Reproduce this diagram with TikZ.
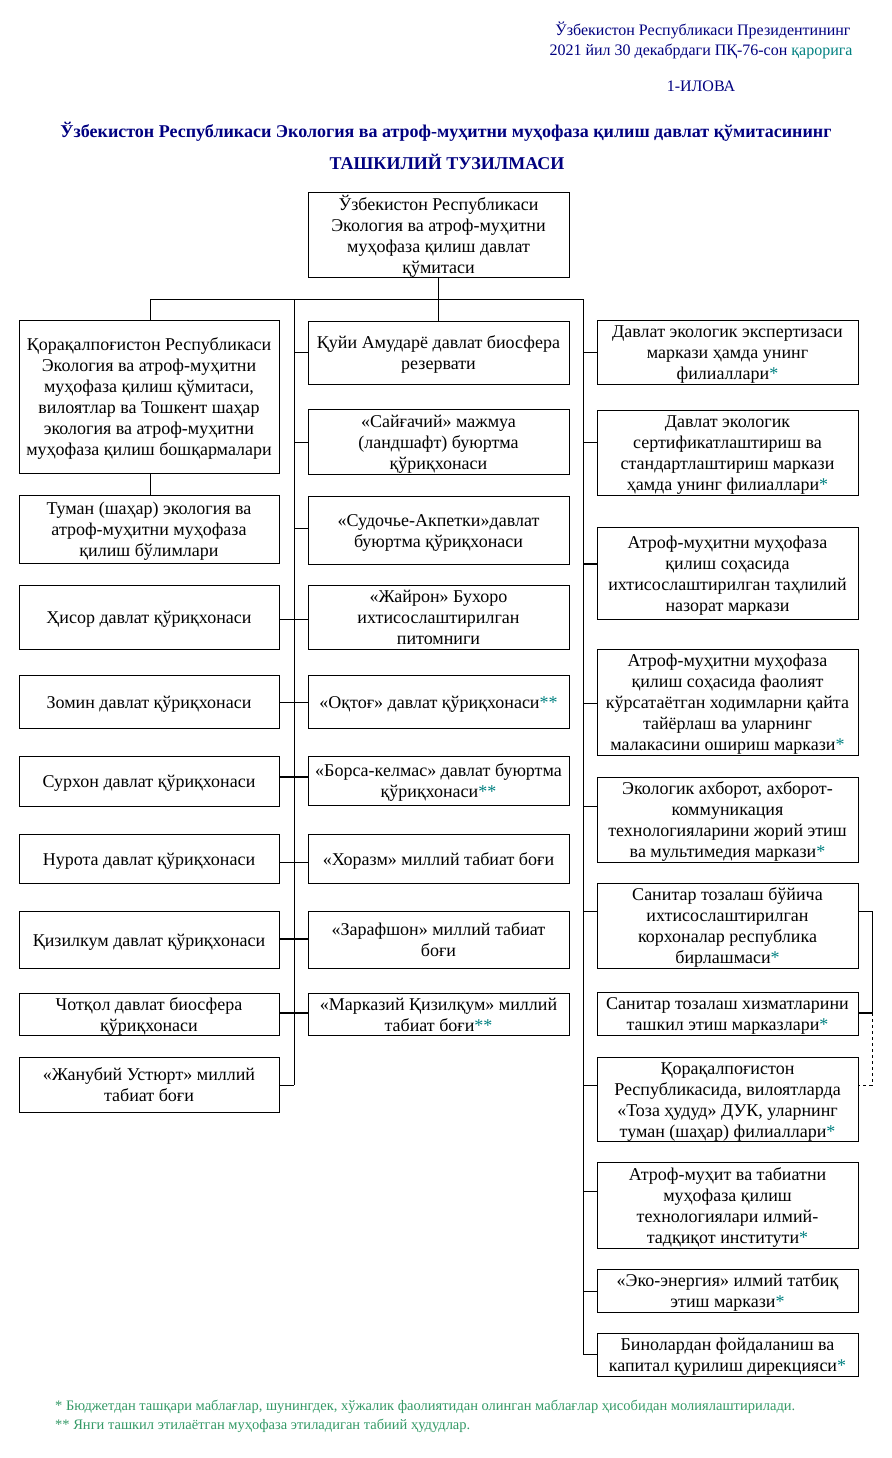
\documentclass[tikz,border=0pt]{standalone}
\usepackage{fontspec}
\setmainfont{Liberation Serif}
\definecolor{navyc}{HTML}{000080}
\definecolor{tealc}{HTML}{008080}
\definecolor{fgreen}{HTML}{339966}
\newcommand{\tst}[1]{\textcolor{tealc}{#1}}
\newcommand{\bt}[1]{\raisebox{-2.5pt}[\height][\depth]{\begin{tabular}{@{}c@{}}#1\end{tabular}}}
\begin{document}
\begin{tikzpicture}[x=1pt,y=-1pt,
  box/.style={draw, line width=1pt, inner sep=0pt, font=\fontsize{18}{21}\selectfont},
  lb/.style={box, minimum width=260},
  mb/.style={box, minimum width=261},
  rb/.style={box, minimum width=261},
  ln/.style={line width=1pt},
  thk/.style={line width=2pt},
  hdr/.style={text=navyc, font=\fontsize{16}{21}\selectfont, inner sep=0pt, align=center},
  ttl/.style={text=navyc, font=\bfseries\fontsize{18}{21}\selectfont, inner sep=0pt},
  fn/.style={text=fgreen, font=\fontsize{14.5}{19}\selectfont, inner sep=0pt, anchor=west}]
\useasboundingbox (0,0) rectangle (891,1458);

% header
\node[hdr] (h1) at (703,30) {Ўзбекистон Республикаси Президентининг};
\node[hdr] (h2) at (701,51) {2021 йил 30 декабрдаги ПҚ-76-сон \tst{қарорига}};
\node[hdr] (h3) at (701,86) {1-ИЛОВА};
\node[ttl] (t1) at (446,132) {Ўзбекистон Республикаси Экология ва атроф-муҳитни муҳофаза қилиш давлат қўмитасининг};
\node[ttl] (t2) at (447,162) {ТАШКИЛИЙ ТУЗИЛМАСИ};

% top box
\node[mb, minimum height=84] (M0) at (438.5,235) {\bt{Ўзбекистон Республикаси\\Экология ва атроф-муҳитни\\муҳофаза қилиш давлат\\қўмитаси}};

% left column
\node[lb, minimum height=153] (L1) at (149,396.5) {\bt{Қорақалпоғистон Республикаси\\Экология ва атроф-муҳитни\\муҳофаза қилиш қўмитаси,\\вилоятлар ва Тошкент шаҳар\\экология ва атроф-муҳитни\\муҳофаза қилиш бошқармалари}};
\node[lb, minimum height=68] (L2) at (149,529) {\bt{Туман (шаҳар) экология ва\\атроф-муҳитни муҳофаза\\қилиш бўлимлари}};
\node[lb, minimum height=64] (L3) at (149,617) {\bt{Ҳисор давлат қўриқхонаси}};
\node[lb, minimum height=53] (L4) at (149,701.5) {\bt{Зомин давлат қўриқхонаси}};
\node[lb, minimum height=50] (L5) at (149,781) {\bt{Сурхон давлат қўриқхонаси}};
\node[lb, minimum height=49] (L6) at (149,858.5) {\bt{Нурота давлат қўриқхонаси}};
\node[lb, minimum height=57] (L7) at (149,939.5) {\bt{Қизилкум давлат қўриқхонаси}};
\node[lb, minimum height=42] (L8) at (149,1014) {\bt{Чотқол давлат биосфера\\қўриқхонаси}};
\node[lb, minimum height=55] (L9) at (149,1084.5) {\bt{«Жанубий Устюрт» миллий\\табиат боғи}};

% middle column
\node[mb, minimum height=63] (M1) at (438.5,352.5) {\bt{Қуйи Амударё давлат биосфера\\резервати}};
\node[mb, minimum height=65] (M2) at (438.5,441.5) {\bt{«Сайғачий» мажмуа\\(ландшафт) буюртма\\қўриқхонаси}};
\node[mb, minimum height=68] (M3) at (438.5,530) {\bt{«Судочье-Акпетки»давлат\\буюртма қўриқхонаси}};
\node[mb, minimum height=64] (M4) at (438.5,617) {\bt{«Жайрон» Бухоро\\ихтисослаштирилган\\питомниги}};
\node[mb, minimum height=53] (M5) at (438.5,701.5) {\bt{«Оқтоғ» давлат қўриқхонаси\tst{**}}};
\node[mb, minimum height=49] (M6) at (438.5,780.5) {\bt{«Борса-келмас» давлат буюртма\\қўриқхонаси\tst{**}}};
\node[mb, minimum height=49] (M7) at (438.5,858.5) {\bt{«Хоразм» миллий табиат боғи}};
\node[mb, minimum height=57] (M8) at (438.5,939.5) {\bt{«Зарафшон» миллий табиат\\боғи}};
\node[mb, minimum height=42] (M9) at (438.5,1014) {\bt{«Марказий Қизилқум» миллий\\табиат боғи\tst{**}}};

% right column
\node[rb, minimum height=64] (R1) at (727.5,352) {\bt{Давлат экологик экспертизаси\\маркази ҳамда унинг\\филиаллари\tst{*}}};
\node[rb, minimum height=85] (R2) at (727.5,452.5) {\bt{Давлат экологик\\сертификатлаштириш ва\\стандартлаштириш маркази\\ҳамда унинг филиаллари\tst{*}}};
\node[rb, minimum height=92] (R3) at (727.5,573) {\bt{Атроф-муҳитни муҳофаза\\қилиш соҳасида\\ихтисослаштирилган таҳлилий\\назорат маркази}};
\node[rb, minimum height=106] (R4) at (727.5,702) {\bt{Атроф-муҳитни муҳофаза\\қилиш соҳасида фаолият\\кўрсатаётган ходимларни қайта\\тайёрлаш ва уларнинг\\малакасини ошириш маркази\tst{*}}};
\node[rb, minimum height=85] (R5) at (727.5,819.5) {\bt{Экологик ахборот, ахборот-\\коммуникация\\технологияларини жорий этиш\\ва мультимедия маркази\tst{*}}};
\node[rb, minimum height=85] (R6) at (727.5,925.5) {\bt{Санитар тозалаш бўйича\\ихтисослаштирилган\\корхоналар республика\\бирлашмаси\tst{*}}};
\node[rb, minimum height=43] (R7) at (727.5,1013.5) {\bt{Санитар тозалаш хизматларини\\ташкил этиш марказлари\tst{*}}};
\node[rb, minimum height=84] (R8) at (727.5,1099) {\bt{Қорақалпоғистон\\Республикасида, вилоятларда\\«Тоза ҳудуд» ДУК, уларнинг\\туман (шаҳар) филиаллари\tst{*}}};
\node[rb, minimum height=86] (R9) at (727.5,1205) {\bt{Атроф-муҳит ва табиатни\\муҳофаза қилиш\\технологиялари илмий-\\тадқиқот институти\tst{*}}};
\node[rb, minimum height=43] (R10) at (727.5,1290.5) {\bt{«Эко-энергия» илмий татбиқ\\этиш маркази\tst{*}}};
\node[rb, minimum height=43] (R11) at (727.5,1354.5) {\bt{Бинолардан фойдаланиш ва\\капитал қурилиш дирекцияси\tst{*}}};

% footnotes
\node[fn] (f1) at (55,1407) {* Бюджетдан ташқари маблағлар, шунингдек, хўжалик фаолиятидан олинган маблағлар ҳисобидан молиялаштирилади.};
\node[fn] (f2) at (55,1426) {** Янги ташкил этилаётган муҳофаза этиладиган табиий ҳудудлар.};

% connectors
\coordinate (jL) at (150,299);
\coordinate (jR) at (583,299);
\coordinate (sp) at (294,299);
\coordinate (spEnd) at (294,1085);
\coordinate (rEnd) at (583,1354);
\coordinate (b1) at (872,911);
\coordinate (b2) at (872,1013);
\coordinate (b3) at (872,1085);

\draw[ln] (M0.south) -- (M0.south |- jL);
\draw[ln] (jL) -- (jR);
\draw[ln] (jL) -- (jL |- L1.north);
\draw[ln] (M0.south |- jL) -- (M1.north);
\draw[ln] (sp) -- (spEnd);
\draw[ln] (jR) -- (rEnd);
\draw[ln] (L1.south -| jL) -- (L2.north -| jL);

% middle stubs
\draw[ln] (M1.west |- 0,352) -- (sp |- 0,352);
\draw[ln] (M2.west |- 0,442) -- (sp |- 0,442);
\draw[ln] (M3.west |- 0,528) -- (sp |- 0,528);
\draw[ln] (L3.east |- 0,619) -- (M4.west |- 0,619);
\draw[ln] (L4.east |- 0,702) -- (M5.west |- 0,702);
\draw[thk] (L5.east |- 0,777) -- (M6.west |- 0,777);
\draw[ln] (L6.east |- 0,862) -- (M7.west |- 0,862);
\draw[thk] (L7.east |- 0,939) -- (M8.west |- 0,939);
\draw[thk] (L8.east |- 0,1013) -- (M9.west |- 0,1013);
\draw[ln] (L9.east |- spEnd) -- (spEnd);

% right stubs
\draw[ln] (R1.west |- 0,352) -- (jR |- 0,352);
\draw[ln] (R2.west |- 0,442) -- (jR |- 0,442);
\draw[thk] (R3.west |- 0,564) -- (jR |- 0,564);
\draw[ln] (R4.west |- 0,703) -- (jR |- 0,703);
\draw[ln] (R5.west |- 0,806) -- (jR |- 0,806);
\draw[ln] (R6.west |- b1) -- (jR |- b1);
\draw[ln] (R8.west |- b3) -- (jR |- b3);
\draw[ln] (R9.west |- 0,1191) -- (jR |- 0,1191);
\draw[ln] (R10.west |- 0,1291) -- (jR |- 0,1291);
\draw[ln] (R11.west |- rEnd) -- (rEnd);

% right bracket
\draw[ln] (R6.east |- b1) -- (b1) -- (b2);
\draw[thk] (R7.east |- b2) -- (b2);
\draw[ln, dashed] (b2) -- (b3) -- (R8.east |- b3);
\end{tikzpicture}
\end{document}
